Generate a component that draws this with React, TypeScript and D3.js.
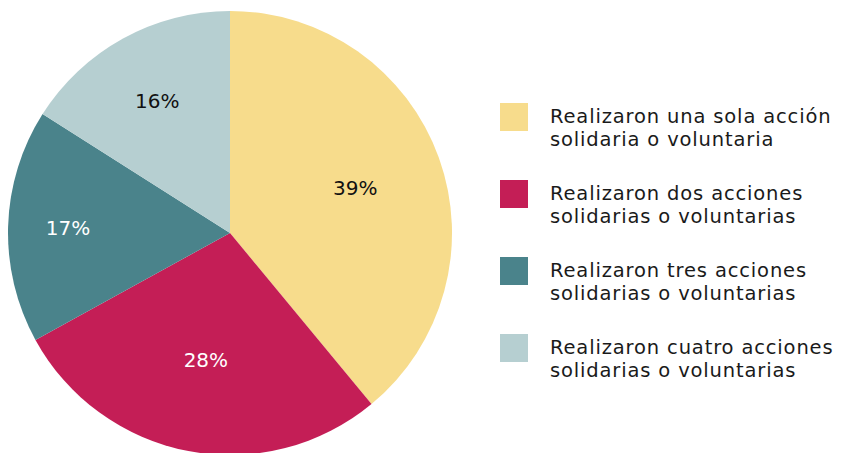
import React from "react";
import * as d3 from "d3";

const categories = [
  "Realizaron una sola acción solidaria o voluntaria",
  "Realizaron dos acciones solidarias o voluntarias",
  "Realizaron tres acciones solidarias o voluntarias",
  "Realizaron cuatro acciones solidarias o voluntarias",
];
const legendLines = [
  ["Realizaron una sola acción", "solidaria o voluntaria"],
  ["Realizaron dos acciones", "solidarias o voluntarias"],
  ["Realizaron tres acciones", "solidarias o voluntarias"],
  ["Realizaron cuatro acciones", "solidarias o voluntarias"],
];
const values = [39, 28, 17, 16];
const colors = ["#F7DC8C", "#C41E56", "#4A838B", "#B6CFD1"];
const labelColors = ["#111", "#fff", "#fff", "#111"];
// label distance from centre, as share of radius
const labelDist = [0.6, 0.58, 0.73, 0.68];

const W = 842;
const H = 453;
const FONT = "'DejaVu Sans', sans-serif";

export default function App() {
  const cx = 230, cy = 233, r = 222;

  const pie = d3.pie<number>().sort(null).value(d => d)(values);
  const arc = d3.arc<d3.PieArcDatum<number>>().innerRadius(0).outerRadius(r);

  return (
    <svg width={W} height={H} style={{ position: "absolute", left: 0, top: 0 }}>
      <g transform={`translate(${cx},${cy})`}>
        {pie.map((p, i) => (
          <path key={i} d={arc(p) || ""} fill={colors[i]} stroke="none" />
        ))}
        {pie.map((p, i) => {
          const a = (p.startAngle + p.endAngle) / 2;
          const d = labelDist[i] * r;
          return (
            <text key={"l" + i} x={Math.sin(a) * d} y={-Math.cos(a) * d} dy="0.36em"
              textAnchor="middle" fontFamily={FONT} fontSize={20}
              fill={labelColors[i]}>
              {values[i]}%
            </text>
          );
        })}
      </g>
      <g>
        {categories.map((c, i) => {
          const y = 117 + i * 77;
          return (
            <g key={c}>
              <rect x={500} y={y - 14} width={28} height={28} fill={colors[i]} />
              {legendLines[i].map((t, j) => (
                <text key={j} x={550} y={y + 6 + j * 22.8} fontFamily={FONT}
                  fontSize={19.5} letterSpacing={0.85} fill="#1a1a1a">{t}</text>
              ))}
            </g>
          );
        })}
      </g>
    </svg>
  );
}
